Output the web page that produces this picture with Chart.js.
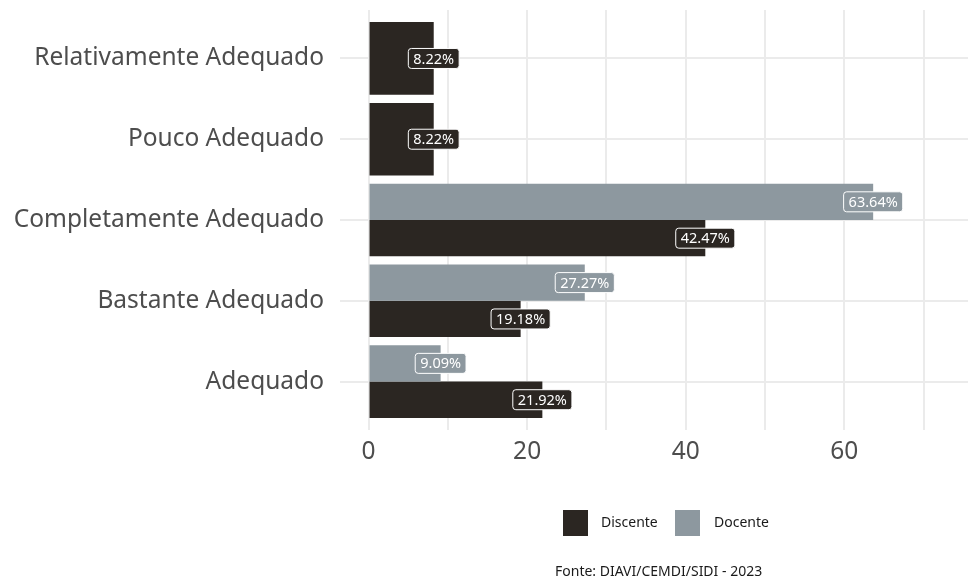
<!DOCTYPE html>
<html>
<head>
<meta charset="utf-8">
<script src="https://cdn.jsdelivr.net/npm/chart.js@4/dist/chart.umd.min.js"></script>
<style>
  html, body { margin: 0; padding: 0; background: #fff; }
  #box { width: 968px; height: 578px; }
</style>
</head>
<body>
<div id="box"><canvas id="grafico" width="968" height="578"></canvas></div>
<script>
// categorias de cima para baixo
const categorias = ["Relativamente Adequado", "Pouco Adequado", "Completamente Adequado", "Bastante Adequado", "Adequado"];
const discente = [8.22, 8.22, 42.47, 19.18, 21.92];
const docente = [null, null, 63.64, 27.27, 9.09];
const ticksX = [0, 10, 20, 30, 40, 50, 60, 70];
const ticksRotulo = [0, 20, 40, 60];

const corDiscente = "#2b2622";
const corDocente = "#8d989f";
const fonte = "'Noto Sans', 'Open Sans', sans-serif";

// rotulos com caixa arredondada na ponta das barras
const rotulos = {
  id: "rotulos",
  afterDatasetsDraw(chart) {
    const ctx = chart.ctx;
    ctx.save();
    ctx.font = "14.5px " + fonte;
    ctx.textAlign = "center";
    ctx.textBaseline = "middle";
    chart.data.datasets.forEach((ds, i) => {
      const meta = chart.getDatasetMeta(i);
      meta.data.forEach((bar, j) => {
        const v = ds.data[j];
        if (v === null || v === undefined) return;
        const txt = v.toFixed(2) + "%";
        const w = ctx.measureText(txt).width + 10;
        const h = 20;
        const x = bar.x - w / 2, y = bar.y - h / 2;
        ctx.beginPath();
        ctx.roundRect(x, y, w, h, 3);
        ctx.fillStyle = ds.backgroundColor;
        ctx.fill();
        ctx.strokeStyle = "#ffffff";
        ctx.lineWidth = 1;
        ctx.stroke();
        ctx.fillStyle = "#ffffff";
        ctx.fillText(txt, bar.x, bar.y + 1);
      });
    });
    ctx.restore();
  }
};

// legenda e fonte embaixo
const legendaFonte = {
  id: "legendaFonte",
  afterDraw(chart) {
    const ctx = chart.ctx;
    ctx.save();
    ctx.font = "14px " + fonte;
    ctx.textBaseline = "middle";
    ctx.textAlign = "left";
    ctx.fillStyle = corDiscente;
    ctx.fillRect(563, 510, 25, 26);
    ctx.fillStyle = corDocente;
    ctx.fillRect(675, 510, 25, 26);
    ctx.fillStyle = "#1a1a1a";
    ctx.fillText("Discente", 601, 523);
    ctx.fillText("Docente", 714, 523);
    ctx.fillText("Fonte: DIAVI/CEMDI/SIDI - 2023", 555, 572);
    ctx.restore();
  }
};

new Chart(document.getElementById("grafico").getContext("2d"), {
  type: "bar",
  data: {
    labels: categorias,
    datasets: [
      { label: "Docente", data: docente, backgroundColor: corDocente, skipNull: true },
      { label: "Discente", data: discente, backgroundColor: corDiscente, skipNull: true }
    ]
  },
  options: {
    indexAxis: "y",
    responsive: false,
    animation: false,
    barPercentage: 1,
    categoryPercentage: 0.9,
    layout: { padding: { top: 10, right: 0, left: 0, bottom: 0 } },
    plugins: { legend: { display: false }, tooltip: { enabled: false } },
    scales: {
      x: {
        type: "linear",
        min: -3.6,
        max: 75.6,
        afterBuildTicks(scale) { scale.ticks = ticksX.map(v => ({ value: v })); },
        afterFit(scale) {
          scale.height = 148;
          scale.paddingLeft = 0;
          scale.paddingRight = 0;
        },
        ticks: {
          font: { size: 24.5, family: fonte },
          color: "#4d4d4d",
          padding: 7,
          callback: v => ticksRotulo.includes(v) ? String(v) : ""
        },
        grid: { color: "#ebebeb", lineWidth: 2, drawTicks: false },
        border: { display: false }
      },
      y: {
        afterBuildTicks(scale) {
          // expansao de 0.6 categoria nas pontas
          scale._startValue = -0.6;
          scale._valueRange = categorias.length + 0.2;
        },
        afterFit(scale) {
          scale.width = 340;
          scale.paddingTop = 0;
          scale.paddingBottom = 0;
        },
        ticks: {
          font: { size: 24.5, family: fonte },
          color: "#4d4d4d",
          padding: 16
        },
        grid: { color: "#ebebeb", lineWidth: 2, drawTicks: false, offset: false },
        border: { display: false }
      }
    }
  },
  plugins: [rotulos, legendaFonte]
});
</script>
</body>
</html>
